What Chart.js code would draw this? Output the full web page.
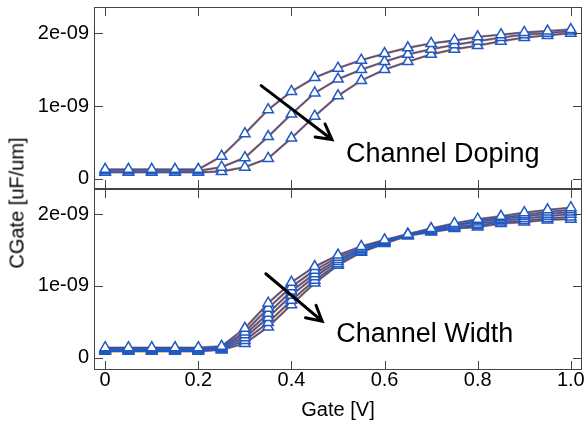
<!DOCTYPE html>
<html>
<head>
<meta charset="utf-8">
<script src="https://cdn.jsdelivr.net/npm/chart.js@4/dist/chart.umd.min.js"></script>
<style>
body { margin: 0; background: #fff; }
#wrap { position: relative; width: 585px; height: 434px; }
canvas { position: absolute; left: 0; }
#top { top: 0; }
#bot { top: 188px; }
#ytitle {
    position: absolute; left: 17px; top: 203px;
    transform: translate(-50%, -50%) rotate(-90deg);
    font: 20px "Liberation Sans", Arial, sans-serif;
    white-space: nowrap; color: #000;
}
</style>
</head>
<body>
<div id="wrap">
    <canvas id="top" width="585" height="190"></canvas>
    <canvas id="bot" width="585" height="246"></canvas>
    <div id="ytitle">CGate [uF/um]</div>
</div>
<script>
// gate voltage sweep
const gate = [0, 0.05, 0.1, 0.15, 0.2, 0.25, 0.3, 0.35, 0.4, 0.45, 0.5,
              0.55, 0.6, 0.65, 0.7, 0.75, 0.8, 0.85, 0.9, 0.95, 1.0];

// CGate in units of 1e-09, channel doping sweep (top panel)
const doping1 = [0.13, 0.13, 0.13, 0.13, 0.13, 0.31, 0.62, 0.95, 1.20, 1.39, 1.52,
                 1.63, 1.72, 1.80, 1.86, 1.90, 1.95, 1.98, 2.01, 2.03, 2.05];
const doping2 = [0.11, 0.11, 0.11, 0.11, 0.11, 0.16, 0.29, 0.58, 0.89, 1.18, 1.37,
                 1.50, 1.61, 1.71, 1.78, 1.84, 1.89, 1.94, 1.98, 2.00, 2.03];
const doping3 = [0.09, 0.09, 0.09, 0.09, 0.09, 0.10, 0.16, 0.28, 0.56, 0.86, 1.14,
                 1.35, 1.50, 1.61, 1.71, 1.78, 1.83, 1.89, 1.94, 1.97, 2.00];

// channel width sweep (bottom panel)
const width1 = [0.14, 0.14, 0.14, 0.14, 0.14, 0.16, 0.41, 0.76, 1.05, 1.27, 1.43,
                1.55, 1.64, 1.72, 1.80, 1.87, 1.93, 1.97, 2.02, 2.06, 2.09];
const width2 = [0.13, 0.13, 0.13, 0.13, 0.13, 0.15, 0.36, 0.69, 0.99, 1.22, 1.40,
                1.53, 1.63, 1.72, 1.79, 1.85, 1.91, 1.95, 1.99, 2.03, 2.06];
const width3 = [0.12, 0.12, 0.12, 0.12, 0.12, 0.14, 0.32, 0.62, 0.93, 1.17, 1.37,
                1.51, 1.62, 1.71, 1.78, 1.84, 1.89, 1.93, 1.97, 2.00, 2.03];
const width4 = [0.11, 0.11, 0.11, 0.11, 0.11, 0.13, 0.28, 0.56, 0.87, 1.13, 1.34,
                1.50, 1.61, 1.71, 1.77, 1.82, 1.86, 1.91, 1.94, 1.97, 2.00];
const width5 = [0.10, 0.10, 0.10, 0.10, 0.10, 0.12, 0.24, 0.49, 0.80, 1.08, 1.31,
                1.48, 1.60, 1.70, 1.76, 1.81, 1.84, 1.89, 1.91, 1.94, 1.96];
const width6 = [0.09, 0.09, 0.09, 0.09, 0.09, 0.11, 0.20, 0.43, 0.74, 1.04, 1.29,
                1.47, 1.59, 1.70, 1.75, 1.80, 1.82, 1.87, 1.89, 1.92, 1.93];

const xTicks = [0, 0.2, 0.4, 0.6, 0.8, 1.0];
const xTickLabels = ['0', '0.2', '0.4', '0.6', '0.8', '1.0'];
const yTicks = [0, 1, 2];
const yTickLabels = ['0', '1e-09', '2e-09'];

const ORANGE = '#e8792a';
const BLUE = '#2159c4';
const FONT = '"Liberation Sans", Arial, sans-serif';

Chart.defaults.font.family = FONT;
Chart.defaults.color = '#000';

function makeDatasets(series) {
    const sets = [];
    series.forEach(vals => {
        const pts = vals.map((v, i) => ({ x: gate[i], y: v }));
        sets.push({ data: pts, borderColor: ORANGE, borderWidth: 2.4, pointRadius: 0, order: 2 });
        sets.push({
            data: pts, borderColor: BLUE, borderWidth: 1.3, order: 1,
            pointStyle: 'triangle', pointRadius: 6, pointBorderWidth: 1.5,
            pointBorderColor: BLUE, pointBackgroundColor: '#fff'
        });
    });
    return sets;
}

// frame, inward ticks, tick labels, arrow and note
function framePlugin(note, showXLabels) {
    return {
        id: 'frame',
        afterDatasetsDraw(chart) {
            const { ctx, chartArea: a, scales: { x, y } } = chart;
            ctx.save();
            ctx.strokeStyle = '#444';
            ctx.lineWidth = 1;
            ctx.strokeRect(a.left + 0.5, a.top + 0.5, a.right - a.left - 1, a.bottom - a.top - 1);
            ctx.beginPath();
            xTicks.forEach(v => {
                const px = Math.round(x.getPixelForValue(v)) + 0.5;
                ctx.moveTo(px, a.top); ctx.lineTo(px, a.top + 9);
                ctx.moveTo(px, a.bottom); ctx.lineTo(px, a.bottom - 9);
            });
            yTicks.forEach(v => {
                const py = Math.round(y.getPixelForValue(v)) + 0.5;
                ctx.moveTo(a.left, py); ctx.lineTo(a.left + 9, py);
                ctx.moveTo(a.right, py); ctx.lineTo(a.right - 9, py);
            });
            ctx.stroke();

            ctx.fillStyle = '#000';
            ctx.font = '20px ' + FONT;
            ctx.textBaseline = 'middle';
            ctx.textAlign = 'right';
            yTicks.forEach((v, i) => ctx.fillText(yTickLabels[i], a.left - 5, y.getPixelForValue(v)));
            if (showXLabels) {
                ctx.textAlign = 'center';
                xTicks.forEach((v, i) => ctx.fillText(xTickLabels[i], x.getPixelForValue(v), a.bottom + 10));
            }

            // arrow
            const x0 = x.getPixelForValue(note.from[0]), y0 = y.getPixelForValue(note.from[1]);
            const x1 = x.getPixelForValue(note.to[0]), y1 = y.getPixelForValue(note.to[1]);
            const ang = Math.atan2(y1 - y0, x1 - x0);
            ctx.strokeStyle = '#000';
            ctx.lineWidth = 3;
            ctx.lineCap = 'round';
            ctx.beginPath();
            ctx.moveTo(x0, y0); ctx.lineTo(x1, y1);
            ctx.moveTo(x1 - 17 * Math.cos(ang - 0.5), y1 - 17 * Math.sin(ang - 0.5));
            ctx.lineTo(x1, y1);
            ctx.lineTo(x1 - 17 * Math.cos(ang + 0.5), y1 - 17 * Math.sin(ang + 0.5));
            ctx.stroke();

            ctx.font = '27px ' + FONT;
            ctx.textAlign = 'left';
            ctx.textBaseline = 'alphabetic';
            ctx.fillText(note.text, x.getPixelForValue(note.at[0]), y.getPixelForValue(note.at[1]));
            ctx.restore();
        }
    };
}

function makeChart(id, series, yMin, yMax, showX, note, padding) {
    return new Chart(document.getElementById(id), {
        type: 'line',
        data: { datasets: makeDatasets(series) },
        options: {
            responsive: false,
            animation: false,
            devicePixelRatio: 1,
            events: [],
            layout: { padding: padding, autoPadding: false },
            plugins: { legend: { display: false }, tooltip: { enabled: false } },
            scales: {
                x: {
                    type: 'linear', min: -0.024, max: 1.024,
                    display: showX,
                    grid: { display: false, drawTicks: false },
                    border: { display: false },
                    afterBuildTicks: s => { s.ticks = xTicks.map(v => ({ value: v })); },
                    afterFit: s => { if (showX) s.height = 64; },
                    ticks: { display: false },
                    title: {
                        display: showX, text: 'Gate [V]', font: { size: 20 },
                        padding: { top: 0, bottom: 12 }
                    }
                },
                y: {
                    type: 'linear', min: yMin, max: yMax,
                    grid: { display: false, drawTicks: false },
                    border: { display: false },
                    afterBuildTicks: s => { s.ticks = yTicks.map(v => ({ value: v })); },
                    afterFit: s => { s.width = 94; },
                    ticks: { display: false }
                }
            }
        },
        plugins: [framePlugin(note, showX)]
    });
}

makeChart('top', [doping1, doping2, doping3], -0.14, 2.36, false,
    { from: [0.335, 1.28], to: [0.487, 0.54], text: 'Channel Doping', at: [0.517, 0.23] },
    { left: 0, right: 3, top: 7, bottom: 1 });

makeChart('bot', [width1, width2, width3, width4, width5, width6], -0.17, 2.35, true,
    { from: [0.345, 1.17], to: [0.466, 0.51], text: 'Channel Width', at: [0.496, 0.22] },
    { left: 0, right: 3, top: 1, bottom: 0 });
</script>
</body>
</html>
